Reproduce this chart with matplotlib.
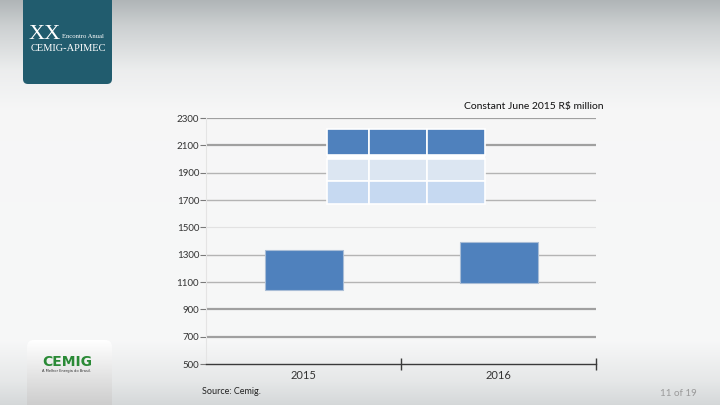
import numpy as np
import matplotlib.pyplot as plt
from matplotlib.patches import FancyBboxPatch

years = ["2015", "2016"]
bar_low = [1040, 1090]
bar_high = [1335, 1395]

# empty table pasted over the middle of the slide chart
table_col_edges = [0.12, 0.337, 0.635, 0.93]
table_rows = [(2027, 2217), (1841, 2002), (1669, 1841)]
table_colors = ["#4f81bd", "#dce6f2", "#c6d9f1"]

y_ticks = list(range(500, 2301, 200))
unit_note = "Constant June 2015 R$ million"
source_note = "Source: Cemig."
page_note = "11 of 19"

FONT = ["Lato", "DejaVu Sans"]
W, H = 720, 405
fig = plt.figure(figsize=(W / 100, H / 100), dpi=100)

# slide background: grey band at the top and bottom
bg = fig.add_axes([0, 0, 1, 1])
bg.set_xlim(0, W)
bg.set_ylim(H, 0)
bg.axis("off")
ys = np.arange(H)
shade = np.interp(ys, [0, 25, 70, 110, 340, 380, 405], [176, 204, 236, 246, 247, 230, 212])
cool = 0.07 * (255 - shade)
tint = np.stack([shade, shade + cool, shade + 1.4 * cool], axis=1).clip(0, 255) / 255
bg.imshow(np.repeat(tint[:, None, :], 2, axis=1), extent=[0, W, H, 0], aspect="auto", zorder=0)

# event box, top left
bg.add_patch(FancyBboxPatch((23, -20), 89, 104, boxstyle="round,pad=0,rounding_size=5",
                            fc="#215c6e", ec="none", zorder=1))
bg.text(29, 39, "XX", family="Liberation Serif", fontsize=16, color="white", va="baseline", zorder=2)
bg.text(62, 38, "Encontro Anual", family="Liberation Serif", fontsize=4.8, color="white", va="baseline", zorder=2)
bg.text(31, 51, "CEMIG-APIMEC", family="Liberation Serif", fontsize=7.5, color="white", va="baseline", zorder=2)

# company box, bottom left (rounded top corners)
logo_grad = np.linspace(1.0, 0.76, 60)[:, None, None] * np.ones((1, 2, 3))
im = bg.imshow(logo_grad, extent=[27, 112, 420, 340], aspect="auto", zorder=1)
clip = FancyBboxPatch((27, 340), 85, 90, boxstyle="round,pad=0,rounding_size=7",
                      fc="none", ec="none", transform=bg.transData)
bg.add_patch(clip)
im.set_clip_path(clip)
bg.text(67, 366, "CEMIG", fontsize=10, fontweight="bold", color="#2a8a36", ha="center",
        va="baseline", family="DejaVu Sans", zorder=2)
bg.text(67, 372, "A Melhor Energia do Brasil.", fontsize=2.6, color="#333333", ha="center",
        va="baseline", zorder=2)

ax = fig.add_axes([206 / W, 41 / H, 390 / W, 246 / H])
ax.patch.set_alpha(0)
ax.set_xlim(-0.5, 1.5)
ax.set_ylim(500, 2300)

grid_col = ["#a0a0a0", "#a0a0a0", "#b4b4b4", "#b4b4b4", "#e2e2e2", "#b4b4b4", "#b4b4b4", "#a0a0a0", "#a0a0a0"]
grid_lw = [1.6, 1.6, 1.0, 1.0, 0.8, 1.0, 1.0, 1.6, 1.6]
for v, c, lw in zip(y_ticks[1:], grid_col, grid_lw):
    ax.axhline(v, color=c, lw=lw, zorder=1)

heights = np.subtract(bar_high, bar_low)
ax.bar(range(len(years)), heights, bottom=bar_low, width=0.4,
       color="#4f81bd", edgecolor="#a9bdd6", lw=0.8, zorder=3)

lefts = table_col_edges[:-1]
widths = np.diff(table_col_edges)
top = max(r[1] for r in table_rows)
bottom = min(r[0] for r in table_rows)
ax.bar(lefts[0], top - bottom, bottom=bottom, width=table_col_edges[-1] - lefts[0],
       align="edge", color="white", lw=0, zorder=3)
for (lo, hi), c in zip(table_rows, table_colors):
    ax.bar(lefts, hi - lo, bottom=lo, width=widths, align="edge",
           color=c, edgecolor="white", lw=1.2, zorder=4)

for s in ["top", "right"]:
    ax.spines[s].set_visible(False)
ax.spines["left"].set_color("#e4e4e4")
ax.spines["left"].set_linewidth(0.8)
ax.spines["bottom"].set_color("#3a3a3a")
ax.spines["bottom"].set_linewidth(1.0)
ax.spines["bottom"].set_zorder(5)

ax.set_xticks(range(len(years)), years)
ax.set_xticks([0.5, 1.5], minor=True)
ax.tick_params(axis="x", which="major", length=0, pad=4, labelsize=8, labelcolor="#333333")
ax.tick_params(axis="x", which="minor", direction="inout", length=8, width=1, color="#3a3a3a")
ax.set_yticks(y_ticks)
ax.tick_params(axis="y", length=4, width=0.8, color="#7a7a7a", pad=1, labelsize=7, labelcolor="#333333")
for lab in ax.get_xticklabels() + ax.get_yticklabels():
    lab.set_family(FONT)

fig.text(604 / W, 1 - 107 / H, unit_note, ha="right", va="center", fontsize=7.5,
         family=FONT, color="#111111")
fig.text(202 / W, 1 - 391 / H, source_note, ha="left", va="center", fontsize=6.5,
         family=FONT, color="#222222")
fig.text(697 / W, 1 - 394 / H, page_note, ha="right", va="center", fontsize=7,
         family=FONT, color="#9a9a9a")

fig.savefig("out.png", dpi=100)
